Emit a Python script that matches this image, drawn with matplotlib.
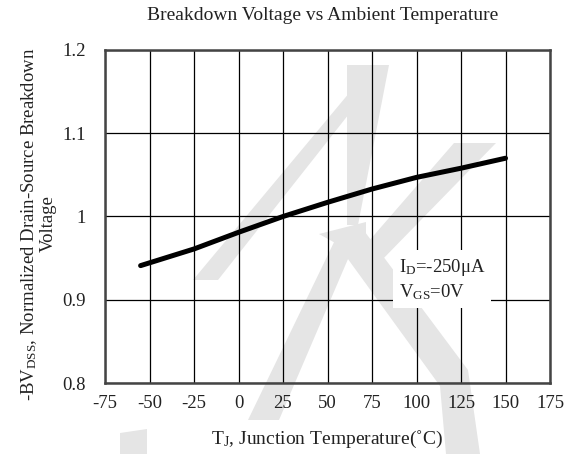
import matplotlib
matplotlib.use('Agg')
import matplotlib.pyplot as plt
from matplotlib.patches import Polygon

plt.rcParams['font.family'] = ['Liberation Serif', 'DejaVu Serif']
plt.rcParams['mathtext.fontset'] = 'custom'
plt.rcParams['mathtext.rm'] = 'Liberation Serif'
plt.rcParams['mathtext.it'] = 'Liberation Serif'

# data
temp_c = [-55, -25, 0, 25, 50, 75, 100, 125, 150]
bv_norm = [0.941, 0.961, 0.981, 1.000, 1.017, 1.033, 1.047, 1.058, 1.070]

x_ticks = [-75, -50, -25, 0, 25, 50, 75, 100, 125, 150, 175]
y_ticks = [0.8, 0.9, 1.0, 1.1, 1.2]
y_tick_labels = ['0.8', '0.9', '1', '1.1', '1.2']

W, H = 572, 454
fig = plt.figure(figsize=(W / 100, H / 100), dpi=100)
ax = fig.add_axes([105 / W, 1 - 383 / H, 445 / W, 333 / H])
ax.set_facecolor('none')

# ── faint logo watermark behind the chart (pixel outlines) ──
wm = '#e5e5e5'
shapes = [
    [(350, 92), (360, 100), (218, 280), (193, 280)],
    [(347, 65), (389, 65), (358, 225), (347, 225)],
    [(319, 234), (366, 222), (366, 260)],
    [(337, 236), (360, 231), (279, 420), (248, 420)],
    [(454, 143), (496, 143), (380, 262), (362, 249)],
    [(332, 237), (365, 232), (468, 370), (480, 454),
     (446, 454), (440, 386)],
    [(120, 433), (147, 429), (147, 454), (120, 454)],
]
for pts in shapes:
    fig.patches.append(Polygon([(x / W, 1 - y / H) for x, y in pts],
                               closed=True, transform=fig.transFigure,
                               facecolor=wm, edgecolor='none', zorder=-5))

ax.plot(temp_c, bv_norm, color='black', lw=3.6, solid_capstyle='round',
        zorder=3)

ax.set_xlim(-75, 175)
ax.set_ylim(0.8, 1.2)
ax.set_xticks(x_ticks)
ax.set_xticklabels([str(t) for t in x_ticks])
ax.set_yticks(y_ticks)
ax.set_yticklabels(y_tick_labels)
ax.tick_params(length=0, labelsize=13.5, colors='#222222')
ax.tick_params(axis='x', pad=9)
ax.tick_params(axis='y', pad=14)
ax.grid(True, color='black', lw=0.9)
ax.set_axisbelow(True)
for sp in ax.spines.values():
    sp.set_color('#444444')
    sp.set_linewidth(1.8)

ax.text(90, 0.924, 'I$_{\\mathrm{D}}$=-250μA\nV$_{\\mathrm{GS}}$=0V',
        fontsize=13.5, va='center', ha='left', linespacing=1.3,
        color='#222222', zorder=4,
        bbox=dict(boxstyle='square,pad=0.3', fc='white', ec='none'))

fig.text(323 / W, 1 - 16 / H, 'Breakdown Voltage vs Ambient Temperature',
         ha='center', va='center', fontsize=14, color='#222222')
fig.text(327 / W, 1 - 439 / H, 'T$_{\\mathrm{J}}$, Junction Temperature(˚C)',
         ha='center', va='center', fontsize=14, color='#222222')
fig.text(38 / W, 1 - 224 / H,
         '-BV$_{\\mathrm{DSS}}$, Normalized Drain-Source Breakdown\nVoltage',
         ha='center', va='center', rotation=90, fontsize=13.5,
         linespacing=1.05, color='#222222')

fig.savefig('out.png', dpi=100)
